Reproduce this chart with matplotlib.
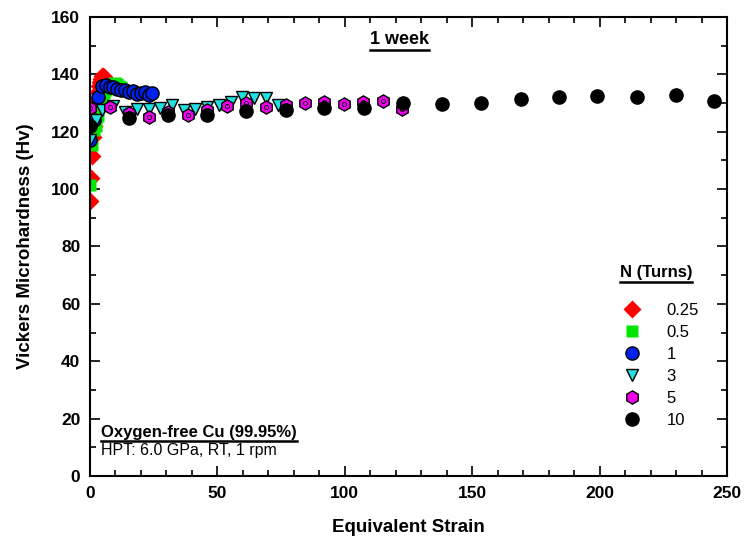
import matplotlib
matplotlib.use("Agg")
import matplotlib.pyplot as plt
from matplotlib.lines import Line2D
from matplotlib.ticker import MultipleLocator
import numpy as np

plt.rcParams['font.family'] = ['Liberation Sans', 'DejaVu Sans']

# equivalent strain / hardness (Hv) for each number of turns
strain_025 = [0.0, 0.38, 0.77, 1.15, 1.53, 1.9, 2.3, 2.7, 3.06, 3.4, 3.8, 4.2, 4.6, 5.0, 5.4, 5.75, 6.1]
hv_025 = [96, 104, 111.5, 118, 122, 126, 129, 131, 134, 136, 137.5, 138.5, 139.5, 139.5, 139, 138.5, 138]

strain_05 = [0.0, 0.77, 1.53, 2.3, 3.06, 3.8, 4.6, 5.4, 6.1, 6.9, 7.7, 8.4, 9.2, 10.0, 10.7, 11.5, 12.3]
hv_05 = [101.5, 115.5, 120.5, 122, 125.5, 129, 132, 133.5, 134.5, 135.5, 136, 136.5, 136.5, 137, 136.5, 136, 135.5]

strain_1 = [0.0, 1.5, 3.0, 4.6, 6.1, 7.7, 9.2, 10.7, 12.3, 13.8, 15.3, 16.9, 18.4, 19.9, 21.5, 23.0, 24.5]
hv_1 = [117, 124, 132, 135.8, 136.2, 135.5, 135.6, 135, 134.5, 134.5, 134, 134.2, 133, 133.6, 134, 132.8, 133.5]

strain_3 = [0.0, 2.3, 4.6, 9.2, 13.8, 18.4, 23.0, 27.6, 32.2, 36.8, 41.4, 46.0, 50.6, 55.2, 59.8, 64.4, 69.0, 73.6]
hv_3 = [117, 124, 127.6, 129, 127, 128, 127.8, 128.3, 129.3, 127.6, 128, 128.5, 129.3, 130.4, 132, 131.7, 131.7, 129.3]

strain_5 = [0.0, 7.7, 15.3, 23.0, 30.6, 38.3, 46.0, 53.6, 61.3, 69.0, 77.0, 84.3, 92.0, 99.7, 107.3, 115.0, 122.6]
hv_5 = [128.3, 128.5, 126.5, 125.3, 127, 125.8, 127.6, 129, 130, 128.8, 129.3, 130, 130.4, 129.8, 130.4, 130.6, 127.8]

strain_10 = [0.0, 15.3, 30.6, 46.0, 61.3, 77.0, 92.0, 107.5, 123.0, 138.0, 153.5, 169.0, 184.0, 199.0, 214.7, 230.0, 245.0]
hv_10 = [122, 124.8, 125.8, 125.8, 127.2, 127.6, 128.3, 128.4, 130, 129.6, 129.9, 131.5, 132, 132.5, 132, 132.7, 130.6]

series = [
    ('0.25', strain_025, hv_025, 'D', '#ff0000', 'none', 9.5),
    ('0.5', strain_05, hv_05, 's', '#00e600', 'none', 9),
    ('1', strain_1, hv_1, 'o', '#0022ee', 'black', 9.5),
    ('3', strain_3, hv_3, 'v', '#22e0e0', 'black', 8),
    ('5', strain_5, hv_5, 'h', '#ee00ee', 'black', 9.5),
    ('10', strain_10, hv_10, 'o', 'black', 'black', 9.5),
]

fig = plt.figure(figsize=(7.47, 5.51), dpi=100)
ax = fig.add_axes([90/747, 75/551, 637/747, 459/551])

handles = []
for label, x, y, mk, fc, ec, ms in series:
    ax.plot(x, y, linestyle='none', marker=mk, ms=ms, mfc=fc, mec=ec, mew=1.0)
    if label == '5':
        # small ring in the middle of the hexagons
        ax.plot(x, y, linestyle='none', marker='o', ms=3, mfc='none', mec='black', mew=0.6)
    handles.append(Line2D([], [], linestyle='none', marker=mk, ms=ms, mfc=fc, mec=ec, mew=1.0, label=label))

ax.set_xlim(0, 250)
ax.set_ylim(0, 160)
ax.xaxis.set_major_locator(MultipleLocator(50))
ax.xaxis.set_minor_locator(MultipleLocator(10))
ax.yaxis.set_major_locator(MultipleLocator(20))
ax.yaxis.set_minor_locator(MultipleLocator(10))
ax.tick_params(which='both', direction='in', top=True, right=True, width=1.2)
ax.tick_params(which='major', length=7, labelsize=12.5, pad=7)
ax.tick_params(which='minor', length=4)
for t in ax.get_xticklabels() + ax.get_yticklabels():
    t.set_fontweight('bold')
for s in ax.spines.values():
    s.set_linewidth(1.5)

ax.set_xlabel('Equivalent Strain', fontsize=13.5, fontweight='bold', labelpad=13)
ax.set_ylabel('Vickers Microhardness (Hv)', fontsize=13.5, fontweight='bold', labelpad=12)

leg = ax.legend(handles=handles, loc='upper left', bbox_to_anchor=(0.808, 0.41), frameon=False,
                fontsize=12, handletextpad=1.3, labelspacing=0.42, handlelength=1.5)

underlined = []
underlined.append(fig.text(399/747, 1 - 40/551, '1 week', ha='center', va='center',
                           fontsize=13, fontweight='bold'))
underlined.append(fig.text(656/747, 1 - 273/551, 'N (Turns)', ha='center', va='center',
                           fontsize=12, fontweight='bold'))
underlined.append(fig.text(101/747, 1 - 432/551, 'Oxygen-free Cu (99.95%)', ha='left', va='center',
                           fontsize=12, fontweight='bold'))
fig.text(101/747, 1 - 451/551, 'HPT: 6.0 GPa, RT, 1 rpm', ha='left', va='center', fontsize=11.5)

fig.canvas.draw()
r = fig.canvas.get_renderer()
for t in underlined:
    bb = t.get_window_extent(r).transformed(fig.transFigure.inverted())
    fig.add_artist(Line2D([bb.x0, bb.x1], [bb.y0 - 0.002, bb.y0 - 0.002], color='black', lw=1.8,
                          transform=fig.transFigure))

fig.savefig('out.png', dpi=100)
